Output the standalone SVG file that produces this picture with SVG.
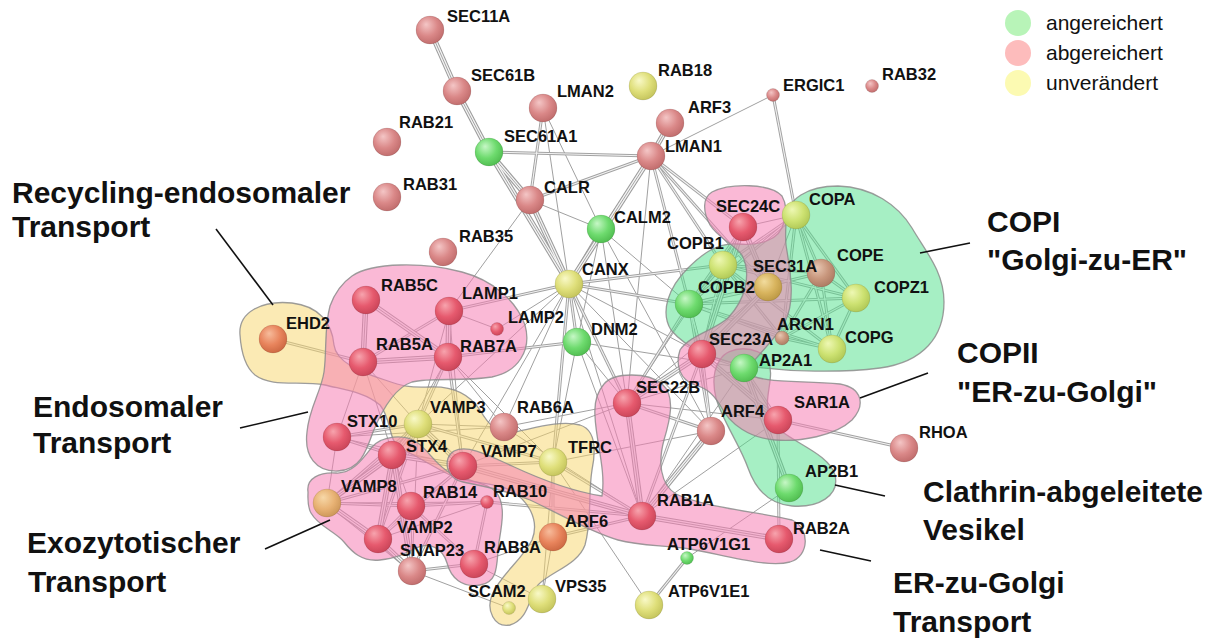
<svg xmlns="http://www.w3.org/2000/svg" xmlns:xlink="http://www.w3.org/1999/xlink" width="1225" height="639" viewBox="0 0 1225 639">
<style>
.bg{fill:#fff}
.eBo{stroke:#9a9a9a;stroke-width:5.5}
.eBi{stroke:#f4f4f4;stroke-width:3.4}
.eBm{stroke:#a4a4a4;stroke-width:1}
.eDo{stroke:#a2a2a2;stroke-width:3}
.eDi{stroke:#f4f4f4;stroke-width:1.1}
.eS{stroke:#a0a0a0;stroke-width:1}
.hull{stroke:#8c8c8c;stroke-width:1.3;stroke-opacity:.85}
.hp{fill:#f580b5;fill-opacity:.55}
.hg{fill:#4de08a;fill-opacity:.5}
.hy{fill:#f7d56a;fill-opacity:.5}
.node circle{stroke:#000;stroke-opacity:.12;stroke-width:.8}
.node text{font-family:"Liberation Sans",Arial,sans-serif;font-weight:bold;font-size:16.5px;fill:#111}
.sal{fill:url(#gSal)}.red{fill:url(#gRed)}.grn{fill:url(#gGrn)}.yel{fill:url(#gYel)}
.yg{fill:url(#gYG)}.ora{fill:url(#gOra)}.tan{fill:url(#gTan)}.brn{fill:url(#gBrn)}.gld{fill:url(#gGld)}
.big{font-family:"Liberation Sans",Arial,sans-serif;font-weight:bold;font-size:30px;fill:#111}
.leg{font-family:"Liberation Sans",Arial,sans-serif;font-size:21px;fill:#111}
.lead{stroke:#111;stroke-width:1.6;fill:none}
</style>
<defs>
<radialGradient id="gSal" cx="0.42" cy="0.38" r="0.62" fx="0.36" fy="0.3"><stop offset="0" stop-color="#f4c6c6"/><stop offset="0.6" stop-color="#da8888"/><stop offset="1" stop-color="#c26e6e"/></radialGradient>
<radialGradient id="gRed" cx="0.42" cy="0.38" r="0.62" fx="0.36" fy="0.3"><stop offset="0" stop-color="#f7a4ae"/><stop offset="0.6" stop-color="#e65a6e"/><stop offset="1" stop-color="#cc465a"/></radialGradient>
<radialGradient id="gGrn" cx="0.42" cy="0.38" r="0.62" fx="0.36" fy="0.3"><stop offset="0" stop-color="#c6f7c6"/><stop offset="0.6" stop-color="#6edb6e"/><stop offset="1" stop-color="#52bf52"/></radialGradient>
<radialGradient id="gYel" cx="0.42" cy="0.38" r="0.62" fx="0.36" fy="0.3"><stop offset="0" stop-color="#f9f9c8"/><stop offset="0.6" stop-color="#dfdf7a"/><stop offset="1" stop-color="#c6c65e"/></radialGradient>
<radialGradient id="gYG" cx="0.42" cy="0.38" r="0.62" fx="0.36" fy="0.3"><stop offset="0" stop-color="#eef8b4"/><stop offset="0.6" stop-color="#cde272"/><stop offset="1" stop-color="#b2ca58"/></radialGradient>
<radialGradient id="gOra" cx="0.42" cy="0.38" r="0.62" fx="0.36" fy="0.3"><stop offset="0" stop-color="#f7bc9c"/><stop offset="0.6" stop-color="#e8845c"/><stop offset="1" stop-color="#ce6a44"/></radialGradient>
<radialGradient id="gTan" cx="0.42" cy="0.38" r="0.62" fx="0.36" fy="0.3"><stop offset="0" stop-color="#f7d8a8"/><stop offset="0.6" stop-color="#e8b274"/><stop offset="1" stop-color="#ce985a"/></radialGradient>
<radialGradient id="gBrn" cx="0.42" cy="0.38" r="0.62" fx="0.36" fy="0.3"><stop offset="0" stop-color="#e8c8b4"/><stop offset="0.6" stop-color="#c8967c"/><stop offset="1" stop-color="#ae7c64"/></radialGradient>
<radialGradient id="gGld" cx="0.42" cy="0.38" r="0.62" fx="0.36" fy="0.3"><stop offset="0" stop-color="#f2dc9e"/><stop offset="0.6" stop-color="#d8b45e"/><stop offset="1" stop-color="#be9a46"/></radialGradient>
</defs>
<rect class="bg" x="0" y="0" width="1225" height="639"/>

<g id="connectors" fill="none">
 <g id="eS" class="eS">
  <line x1="651" y1="156" x2="773" y2="95"/>
  <line x1="530" y1="200" x2="601" y2="229"/>
  <line x1="530" y1="200" x2="449" y2="311"/>
  <line x1="543" y1="108" x2="569" y2="284"/>
  <line x1="651" y1="156" x2="689" y2="304"/>
  <line x1="651" y1="156" x2="627" y2="403"/>
  <line x1="651" y1="156" x2="601" y2="229"/>
  <line x1="569" y1="284" x2="497" y2="329"/>
  <line x1="569" y1="284" x2="418" y2="424"/>
  <line x1="569" y1="284" x2="504" y2="427"/>
  <line x1="569" y1="284" x2="463" y2="466"/>
  <line x1="569" y1="284" x2="702" y2="354"/>
  <line x1="569" y1="284" x2="642" y2="516"/>
  <line x1="569" y1="284" x2="711" y2="431"/>
  <line x1="601" y1="229" x2="627" y2="403"/>
  <line x1="601" y1="229" x2="689" y2="304"/>
  <line x1="601" y1="229" x2="711" y2="431"/>
  <line x1="601" y1="229" x2="577" y2="342"/>
  <line x1="449" y1="311" x2="497" y2="329"/>
  <line x1="448" y1="357" x2="393" y2="455"/>
  <line x1="448" y1="357" x2="504" y2="427"/>
  <line x1="448" y1="357" x2="553" y2="462"/>
  <line x1="363" y1="362" x2="337" y2="437"/>
  <line x1="363" y1="362" x2="393" y2="455"/>
  <line x1="363" y1="362" x2="418" y2="424"/>
  <line x1="449" y1="311" x2="418" y2="424"/>
  <line x1="449" y1="311" x2="463" y2="466"/>
  <line x1="337" y1="437" x2="327" y2="503"/>
  <line x1="337" y1="437" x2="463" y2="466"/>
  <line x1="337" y1="437" x2="504" y2="427"/>
  <line x1="418" y1="424" x2="412" y2="571"/>
  <line x1="418" y1="424" x2="504" y2="427"/>
  <line x1="463" y1="466" x2="411" y2="506"/>
  <line x1="411" y1="506" x2="393" y2="455"/>
  <line x1="411" y1="506" x2="412" y2="571"/>
  <line x1="487" y1="502" x2="378" y2="539"/>
  <line x1="327" y1="503" x2="487" y2="502"/>
  <line x1="412" y1="571" x2="509" y2="608"/>
  <line x1="474" y1="564" x2="553" y2="537"/>
  <line x1="474" y1="564" x2="542" y2="599"/>
  <line x1="553" y1="462" x2="711" y2="431"/>
  <line x1="553" y1="462" x2="542" y2="599"/>
  <line x1="553" y1="462" x2="649" y2="605"/>
  <line x1="687" y1="558" x2="789" y2="488"/>
  <line x1="553" y1="537" x2="542" y2="599"/>
  <line x1="504" y1="427" x2="642" y2="516"/>
  <line x1="504" y1="427" x2="627" y2="403"/>
  <line x1="577" y1="342" x2="627" y2="403"/>
  <line x1="577" y1="342" x2="744" y2="368"/>
  <line x1="577" y1="342" x2="642" y2="516"/>
  <line x1="577" y1="342" x2="553" y2="462"/>
  <line x1="627" y1="403" x2="463" y2="466"/>
  <line x1="627" y1="403" x2="778" y2="420"/>
  <line x1="627" y1="403" x2="743" y2="227"/>
  <line x1="627" y1="403" x2="768" y2="287"/>
  <line x1="627" y1="403" x2="744" y2="368"/>
  <line x1="642" y1="516" x2="744" y2="368"/>
  <line x1="743" y1="227" x2="796" y2="215"/>
  <line x1="768" y1="287" x2="796" y2="215"/>
  <line x1="768" y1="287" x2="821" y2="273"/>
  <line x1="642" y1="516" x2="778" y2="420"/>
  <line x1="543" y1="108" x2="601" y2="229"/>
 </g>
 <g class="eDo"><g id="eD">
  <line x1="489" y1="152" x2="651" y2="156"/>
  <line x1="543" y1="108" x2="530" y2="200"/>
  <line x1="651" y1="156" x2="530" y2="200"/>
  <line x1="601" y1="229" x2="569" y2="284"/>
  <line x1="273" y1="339" x2="363" y2="362"/>
  <line x1="363" y1="362" x2="449" y2="311"/>
  <line x1="569" y1="284" x2="449" y2="311"/>
  <line x1="569" y1="284" x2="723" y2="265"/>
  <line x1="569" y1="284" x2="689" y2="304"/>
  <line x1="569" y1="284" x2="577" y2="342"/>
  <line x1="569" y1="284" x2="553" y2="462"/>
  <line x1="569" y1="284" x2="627" y2="403"/>
  <line x1="448" y1="357" x2="577" y2="342"/>
  <line x1="773" y1="95" x2="796" y2="215"/>
  <line x1="778" y1="420" x2="904" y2="448"/>
  <line x1="649" y1="605" x2="687" y2="558"/>
  <line x1="651" y1="156" x2="743" y2="227"/>
  <line x1="651" y1="156" x2="723" y2="265"/>
  <line x1="651" y1="156" x2="768" y2="287"/>
  <line x1="651" y1="156" x2="702" y2="354"/>
  <line x1="796" y1="215" x2="723" y2="265"/>
  <line x1="796" y1="215" x2="689" y2="304"/>
  <line x1="796" y1="215" x2="821" y2="273"/>
  <line x1="796" y1="215" x2="856" y2="298"/>
  <line x1="796" y1="215" x2="832" y2="349"/>
  <line x1="796" y1="215" x2="782" y2="338"/>
  <line x1="723" y1="265" x2="689" y2="304"/>
  <line x1="723" y1="265" x2="821" y2="273"/>
  <line x1="723" y1="265" x2="856" y2="298"/>
  <line x1="723" y1="265" x2="832" y2="349"/>
  <line x1="689" y1="304" x2="821" y2="273"/>
  <line x1="689" y1="304" x2="856" y2="298"/>
  <line x1="689" y1="304" x2="832" y2="349"/>
  <line x1="689" y1="304" x2="782" y2="338"/>
  <line x1="821" y1="273" x2="856" y2="298"/>
  <line x1="821" y1="273" x2="832" y2="349"/>
  <line x1="856" y1="298" x2="832" y2="349"/>
  <line x1="856" y1="298" x2="782" y2="338"/>
  <line x1="832" y1="349" x2="782" y2="338"/>
  <line x1="821" y1="273" x2="782" y2="338"/>
  <line x1="723" y1="265" x2="782" y2="338"/>
  <line x1="768" y1="287" x2="689" y2="304"/>
  <line x1="743" y1="227" x2="689" y2="304"/>
  <line x1="702" y1="354" x2="689" y2="304"/>
  <line x1="743" y1="227" x2="723" y2="265"/>
  <line x1="702" y1="354" x2="723" y2="265"/>
  <line x1="627" y1="403" x2="689" y2="304"/>
  <line x1="627" y1="403" x2="711" y2="431"/>
  <line x1="711" y1="431" x2="689" y2="304"/>
  <line x1="711" y1="431" x2="702" y2="354"/>
  <line x1="778" y1="420" x2="779" y2="539"/>
  <line x1="744" y1="368" x2="778" y2="420"/>
  <line x1="744" y1="368" x2="702" y2="354"/>
  <line x1="642" y1="516" x2="702" y2="354"/>
  <line x1="642" y1="516" x2="553" y2="537"/>
  <line x1="642" y1="516" x2="553" y2="462"/>
  <line x1="487" y1="502" x2="642" y2="516"/>
  <line x1="337" y1="437" x2="393" y2="455"/>
  <line x1="337" y1="437" x2="418" y2="424"/>
  <line x1="418" y1="424" x2="327" y2="503"/>
  <line x1="418" y1="424" x2="378" y2="539"/>
  <line x1="418" y1="424" x2="553" y2="462"/>
  <line x1="463" y1="466" x2="327" y2="503"/>
  <line x1="463" y1="466" x2="378" y2="539"/>
  <line x1="463" y1="466" x2="412" y2="571"/>
  <line x1="463" y1="466" x2="553" y2="462"/>
  <line x1="411" y1="506" x2="378" y2="539"/>
  <line x1="411" y1="506" x2="487" y2="502"/>
  <line x1="411" y1="506" x2="474" y2="564"/>
  <line x1="411" y1="506" x2="327" y2="503"/>
  <line x1="487" y1="502" x2="474" y2="564"/>
  <line x1="412" y1="571" x2="474" y2="564"/>
  <line x1="412" y1="571" x2="327" y2="503"/>
  <line x1="553" y1="462" x2="553" y2="537"/>
  <line x1="448" y1="357" x2="418" y2="424"/>
  <line x1="448" y1="357" x2="463" y2="466"/>
 </g></g>
 <use href="#eD" xlink:href="#eD" class="eDi"/>
 <g class="eBo"><g id="eB">
  <line x1="430" y1="30" x2="457" y2="91"/>
  <line x1="457" y1="91" x2="489" y2="152"/>
  <line x1="489" y1="152" x2="530" y2="200"/>
  <line x1="530" y1="200" x2="569" y2="284"/>
  <line x1="489" y1="152" x2="569" y2="284"/>
  <line x1="651" y1="156" x2="670" y2="123"/>
  <line x1="651" y1="156" x2="569" y2="284"/>
  <line x1="366" y1="300" x2="363" y2="362"/>
  <line x1="366" y1="300" x2="448" y2="357"/>
  <line x1="363" y1="362" x2="448" y2="357"/>
  <line x1="449" y1="311" x2="448" y2="357"/>
  <line x1="627" y1="403" x2="642" y2="516"/>
  <line x1="627" y1="403" x2="702" y2="354"/>
  <line x1="642" y1="516" x2="779" y2="539"/>
  <line x1="642" y1="516" x2="711" y2="431"/>
  <line x1="744" y1="368" x2="789" y2="488"/>
  <line x1="393" y1="455" x2="327" y2="503"/>
  <line x1="393" y1="455" x2="378" y2="539"/>
  <line x1="327" y1="503" x2="378" y2="539"/>
  <line x1="378" y1="539" x2="412" y2="571"/>
  <line x1="393" y1="455" x2="412" y2="571"/>
  <line x1="418" y1="424" x2="393" y2="455"/>
  <line x1="418" y1="424" x2="463" y2="466"/>
  <line x1="393" y1="455" x2="463" y2="466"/>
  <line x1="642" y1="516" x2="463" y2="466"/>
  <line x1="743" y1="227" x2="768" y2="287"/>
  <line x1="768" y1="287" x2="702" y2="354"/>
  <line x1="743" y1="227" x2="702" y2="354"/>
  <line x1="702" y1="354" x2="778" y2="420"/>
 </g></g>
 <use href="#eB" xlink:href="#eB" class="eBi"/>
 <use href="#eB" xlink:href="#eB" class="eBm"/>
</g>

<g id="hulls">
 <path id="hull-recycling" class="hull hy" d="M240,335 C238,312 262,300 292,303 C318,306 332,322 334,345 C336,362 360,372 385,380 C402,386 410,388 430,387 C455,386 470,395 480,410 C488,424 498,436 515,432 C535,428 560,420 580,425 C596,430 596,450 592,470 C588,495 592,520 585,545 C578,565 550,572 538,585 C528,600 528,620 510,625 C494,628 486,610 492,595 C500,575 522,560 532,540 C540,520 528,500 510,490 C490,480 468,485 450,475 C430,465 415,455 400,448 C388,440 392,420 380,405 C365,392 345,390 325,385 C300,380 272,388 255,375 C244,366 241,350 240,335 Z"/>
 <path id="hull-endosomal" class="hull hp" d="M352,276 C372,262 425,262 462,272 C492,280 516,300 525,325 C532,350 518,372 492,377 C462,382 432,377 412,382 C394,388 382,410 373,432 C366,452 360,470 338,471 C316,472 304,456 307,432 C309,408 321,392 324,372 C327,350 324,328 330,306 C335,292 342,283 352,276 Z"/>
 <path id="hull-exocytosis" class="hull hp" d="M308,492 C306,478 320,472 336,473 C352,474 362,460 372,447 C382,436 404,433 418,443 C430,452 436,466 452,474 C468,481 486,482 496,492 C506,504 502,524 499,542 C496,562 500,582 480,585 C462,588 451,578 447,563 C443,549 430,541 416,548 C402,555 396,558 380,560 C362,562 352,552 344,542 C336,532 318,526 311,513 C307,506 308,498 308,492 Z"/>
 <path id="hull-er-golgi" class="hull hp" d="M604,384 C614,372 648,372 662,384 C676,396 670,420 664,440 C658,462 660,484 676,494 C706,508 760,512 792,520 C810,528 810,556 790,562 C768,568 728,556 690,549 C660,545 640,546 618,540 C590,532 560,514 530,500 C506,490 482,486 463,482 C446,479 442,458 454,451 C468,444 490,456 512,466 C542,480 576,492 602,496 C606,470 596,442 595,416 C594,402 597,392 604,384 Z"/>
 <path id="hull-copi" class="hull hg" d="M784,222 C787,198 808,186 838,186 C872,187 898,205 912,228 C926,252 944,272 944,302 C944,336 924,362 880,368 C840,373 790,372 748,366 C714,360 686,348 671,330 C660,312 668,288 688,268 C702,254 718,242 738,244 C760,246 780,240 784,222 Z"/>
 <path id="hull-clathrin" class="hull hg" d="M720,360 C728,345 758,345 768,360 C776,378 762,398 770,418 C780,440 828,450 835,475 C840,496 818,508 792,506 C768,504 755,488 748,468 C740,445 722,420 716,398 C712,382 714,368 720,360 Z"/>
 <path id="hull-copii" class="hull hp" d="M712,192 C730,183 770,183 782,196 C790,210 784,225 786,245 C790,270 796,300 785,322 C775,340 760,352 745,372 C760,384 800,380 840,384 C862,388 866,405 852,420 C835,436 800,442 775,440 C750,438 730,425 720,405 C712,392 705,388 695,385 C680,380 675,365 680,350 C690,335 715,330 728,318 C745,300 752,275 742,255 C735,245 718,238 710,225 C703,212 702,198 712,192 Z"/>
</g>

<g id="label-leaders">
 <line class="lead" x1="216" y1="229" x2="273" y2="305"/>
 <line class="lead" x1="240" y1="428" x2="308" y2="412"/>
 <line class="lead" x1="265" y1="549" x2="330" y2="520"/>
 <line class="lead" x1="920" y1="253" x2="970" y2="243"/>
 <line class="lead" x1="860" y1="398" x2="928" y2="373"/>
 <line class="lead" x1="835" y1="485" x2="885" y2="496"/>
 <line class="lead" x1="820" y1="550" x2="871" y2="561"/>
</g>

<g id="n-SEC11A" class="node"><circle class="sal" cx="430" cy="30" r="14"/><text x="447" y="22">SEC11A</text></g>
<g id="n-SEC61B" class="node"><circle class="sal" cx="457" cy="91" r="14"/><text x="471" y="81">SEC61B</text></g>
<g id="n-LMAN2" class="node"><circle class="sal" cx="543" cy="108" r="14"/><text x="557" y="97">LMAN2</text></g>
<g id="n-RAB18" class="node"><circle class="yel" cx="643" cy="86" r="14"/><text x="658" y="76">RAB18</text></g>
<g id="n-ARF3" class="node"><circle class="sal" cx="670" cy="123" r="14"/><text x="688" y="113">ARF3</text></g>
<g id="n-RAB21" class="node"><circle class="sal" cx="387" cy="142" r="14"/><text x="399" y="128">RAB21</text></g>
<g id="n-SEC61A1" class="node"><circle class="grn" cx="489" cy="152" r="14"/><text x="504" y="142">SEC61A1</text></g>
<g id="n-LMAN1" class="node"><circle class="sal" cx="651" cy="156" r="14"/><text x="665" y="152">LMAN1</text></g>
<g id="n-RAB31" class="node"><circle class="sal" cx="387" cy="197" r="14"/><text x="403" y="190">RAB31</text></g>
<g id="n-CALR" class="node"><circle class="sal" cx="530" cy="200" r="14"/><text x="544" y="193">CALR</text></g>
<g id="n-ERGIC1" class="node"><circle class="sal" cx="773" cy="95" r="6.5"/><text x="783" y="91">ERGIC1</text></g>
<g id="n-RAB32" class="node"><circle class="sal" cx="872" cy="86" r="6.5"/><text x="882" y="80">RAB32</text></g>
<g id="n-CALM2" class="node"><circle class="grn" cx="601" cy="229" r="14"/><text x="614" y="223">CALM2</text></g>
<g id="n-RAB35" class="node"><circle class="sal" cx="443" cy="252" r="14"/><text x="459" y="242">RAB35</text></g>
<g id="n-CANX" class="node"><circle class="yel" cx="569" cy="284" r="14"/><text x="582" y="275">CANX</text></g>
<g id="n-DNM2" class="node"><circle class="grn" cx="577" cy="342" r="14"/><text x="591" y="335">DNM2</text></g>
<g id="n-LAMP1" class="node"><circle class="red" cx="449" cy="311" r="14"/><text x="462" y="299">LAMP1</text></g>
<g id="n-RAB5C" class="node"><circle class="red" cx="366" cy="300" r="14"/><text x="381" y="291">RAB5C</text></g>
<g id="n-LAMP2" class="node"><circle class="red" cx="497" cy="329" r="6.5"/><text x="508" y="323">LAMP2</text></g>
<g id="n-EHD2" class="node"><circle class="ora" cx="273" cy="339" r="14"/><text x="286" y="329">EHD2</text></g>
<g id="n-RAB5A" class="node"><circle class="red" cx="363" cy="362" r="14"/><text x="376" y="350">RAB5A</text></g>
<g id="n-RAB7A" class="node"><circle class="red" cx="448" cy="357" r="14"/><text x="460" y="352">RAB7A</text></g>
<g id="n-VAMP3" class="node"><circle class="yel" cx="418" cy="424" r="14"/><text x="430" y="413">VAMP3</text></g>
<g id="n-RAB6A" class="node"><circle class="sal" cx="504" cy="427" r="14"/><text x="517" y="413">RAB6A</text></g>
<g id="n-STX10" class="node"><circle class="red" cx="337" cy="437" r="14"/><text x="347" y="427">STX10</text></g>
<g id="n-STX4" class="node"><circle class="red" cx="392" cy="455" r="14"/><text x="406" y="452">STX4</text></g>
<g id="n-VAMP7" class="node"><circle class="red" cx="463" cy="466" r="14"/><text x="481" y="457">VAMP7</text></g>
<g id="n-TFRC" class="node"><circle class="yel" cx="553" cy="462" r="14"/><text x="568" y="453">TFRC</text></g>
<g id="n-VAMP8" class="node"><circle class="tan" cx="327" cy="503" r="14"/><text x="341" y="492">VAMP8</text></g>
<g id="n-RAB14" class="node"><circle class="red" cx="411" cy="506" r="14"/><text x="423" y="498">RAB14</text></g>
<g id="n-RAB10" class="node"><circle class="red" cx="487" cy="502" r="6.5"/><text x="493" y="497">RAB10</text></g>
<g id="n-VAMP2" class="node"><circle class="red" cx="378" cy="539" r="14"/><text x="397" y="533">VAMP2</text></g>
<g id="n-SNAP23" class="node"><circle class="sal" cx="412" cy="571" r="14"/><text x="400" y="556">SNAP23</text></g>
<g id="n-RAB8A" class="node"><circle class="red" cx="474" cy="564" r="14"/><text x="484" y="553">RAB8A</text></g>
<g id="n-ARF6" class="node"><circle class="ora" cx="553" cy="537" r="14"/><text x="565" y="527">ARF6</text></g>
<g id="n-SCAM2" class="node"><circle class="yel" cx="509" cy="608" r="6.5"/><text x="468" y="597">SCAM2</text></g>
<g id="n-VPS35" class="node"><circle class="yel" cx="542" cy="599" r="14"/><text x="555" y="592">VPS35</text></g>
<g id="n-RAB1A" class="node"><circle class="red" cx="642" cy="516" r="14"/><text x="657" y="506">RAB1A</text></g>
<g id="n-ATP6V1E1" class="node"><circle class="yel" cx="649" cy="605" r="14"/><text x="668" y="597">ATP6V1E1</text></g>
<g id="n-ATP6V1G1" class="node"><circle class="grn" cx="687" cy="558" r="6.5"/><text x="667" y="550">ATP6V1G1</text></g>
<g id="n-RAB2A" class="node"><circle class="red" cx="779" cy="539" r="14"/><text x="793" y="534">RAB2A</text></g>
<g id="n-AP2B1" class="node"><circle class="grn" cx="789" cy="488" r="14"/><text x="805" y="477">AP2B1</text></g>
<g id="n-RHOA" class="node"><circle class="sal" cx="904" cy="448" r="14"/><text x="919" y="438">RHOA</text></g>
<g id="n-SAR1A" class="node"><circle class="red" cx="778" cy="420" r="14"/><text x="794" y="408">SAR1A</text></g>
<g id="n-ARF4" class="node"><circle class="sal" cx="711" cy="431" r="14"/><text x="721" y="417">ARF4</text></g>
<g id="n-SEC22B" class="node"><circle class="red" cx="627" cy="403" r="14"/><text x="636" y="393">SEC22B</text></g>
<g id="n-AP2A1" class="node"><circle class="grn" cx="744" cy="368" r="14"/><text x="759" y="366">AP2A1</text></g>
<g id="n-SEC23A" class="node"><circle class="red" cx="702" cy="354" r="14"/><text x="709" y="345">SEC23A</text></g>
<g id="n-ARCN1" class="node"><circle class="brn" cx="782" cy="338" r="7"/><text x="777" y="330">ARCN1</text></g>
<g id="n-COPG" class="node"><circle class="yg" cx="832" cy="349" r="14"/><text x="845" y="343">COPG</text></g>
<g id="n-COPZ1" class="node"><circle class="yg" cx="856" cy="298" r="14"/><text x="874" y="293">COPZ1</text></g>
<g id="n-COPE" class="node"><circle class="brn" cx="821" cy="273" r="14"/><text x="837" y="261">COPE</text></g>
<g id="n-SEC31A" class="node"><circle class="gld" cx="768" cy="287" r="14"/><text x="753" y="272">SEC31A</text></g>
<g id="n-COPB2" class="node"><circle class="grn" cx="689" cy="304" r="14"/><text x="698" y="293">COPB2</text></g>
<g id="n-COPB1" class="node"><circle class="yg" cx="723" cy="265" r="14"/><text x="667" y="249">COPB1</text></g>
<g id="n-SEC24C" class="node"><circle class="red" cx="743" cy="227" r="14"/><text x="716" y="212">SEC24C</text></g>
<g id="n-COPA" class="node"><circle class="yg" cx="796" cy="215" r="14"/><text x="809" y="205">COPA</text></g>

<g id="group-labels">
 <text class="big" x="12" y="203">Recycling-endosomaler</text>
 <text class="big" x="12" y="237">Transport</text>
 <text class="big" x="33" y="417">Endosomaler</text>
 <text class="big" x="33" y="453">Transport</text>
 <text class="big" x="27" y="553">Exozytotischer</text>
 <text class="big" x="28" y="592">Transport</text>
 <text class="big" x="987" y="232">COPI</text>
 <text class="big" x="987" y="270">"Golgi-zu-ER"</text>
 <text class="big" x="957" y="363">COPII</text>
 <text class="big" x="957" y="402">"ER-zu-Golgi"</text>
 <text class="big" x="923" y="502">Clathrin-abgeleitete</text>
 <text class="big" x="923" y="540">Vesikel</text>
 <text class="big" x="893" y="593">ER-zu-Golgi</text>
 <text class="big" x="893" y="632">Transport</text>
</g>

<g id="legend">
 <circle cx="1018" cy="23" r="13" fill="#b8f4b8"/>
 <circle cx="1018" cy="53" r="13" fill="#fdbcbc"/>
 <circle cx="1018" cy="83" r="13" fill="#fcfab2"/>
 <text class="leg" x="1046" y="30">angereichert</text>
 <text class="leg" x="1046" y="60">abgereichert</text>
 <text class="leg" x="1046" y="90">unverändert</text>
</g>
</svg>
